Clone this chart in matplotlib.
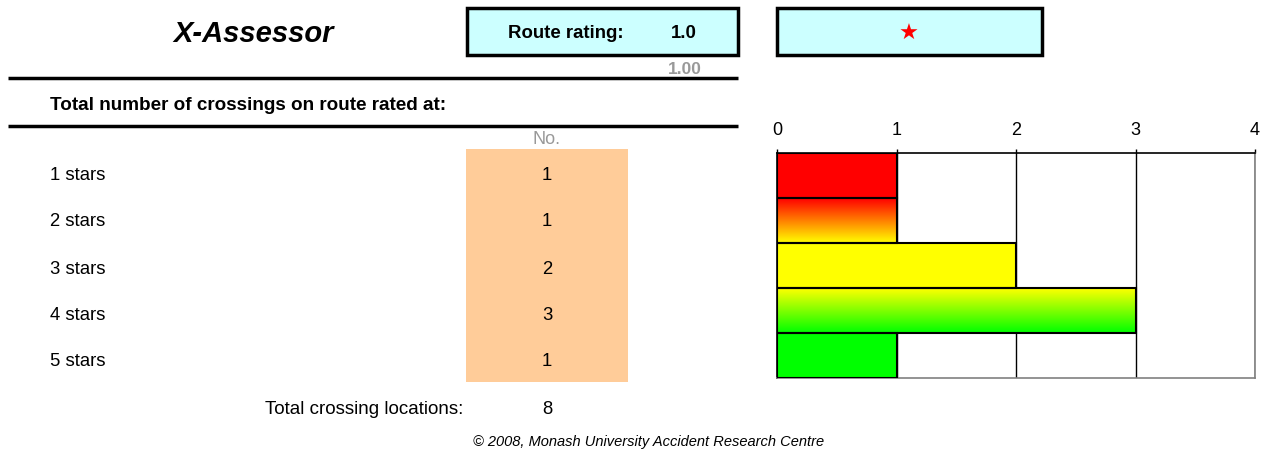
import matplotlib.pyplot as plt
import numpy as np
from matplotlib.patches import Rectangle
from matplotlib.colors import to_rgb

plt.rcParams['font.family'] = ['Liberation Sans', 'DejaVu Sans']

# data
categories = ['1 stars', '2 stars', '3 stars', '4 stars', '5 stars']
counts = [1, 1, 2, 3, 1]
total = 8
route_rating = 1.0
route_rating_exact = 1.00
# bar colours, top -> bottom of each bar
bar_colours = [('#ff0000', '#ff0000'),
               ('#ff0000', '#ffff00'),
               ('#ffff00', '#ffff00'),
               ('#ffff00', '#00ff00'),
               ('#00ff00', '#00ff00')]

fig = plt.figure(figsize=(12.67, 4.5), dpi=100)

# overlay in pixel coordinates for the table part
bg = fig.add_axes([0, 0, 1, 1])
bg.set_xlim(0, 1267)
bg.set_ylim(450, 0)
bg.axis('off')

dy = 2  # text nudge so glyphs sit where the reference has them

bg.text(254, 32 + dy, 'X-Assessor', fontsize=21, fontweight='heavy', style='italic',
        ha='center', va='center')

bg.add_patch(Rectangle((467, 8), 271, 47, facecolor='#ccffff', edgecolor='black', lw=2.5))
bg.text(566, 32 + dy, 'Route rating:', fontsize=13.4, fontweight='bold', ha='center', va='center')
bg.text(684, 32 + dy, '%.1f' % route_rating, fontsize=13.4, fontweight='bold', ha='center', va='center')
bg.text(685, 67 + dy, '%.2f' % route_rating_exact, fontsize=12.5, fontweight='bold', color='#999999',
        ha='center', va='center')

bg.add_patch(Rectangle((777, 8), 265, 47, facecolor='#ccffff', edgecolor='black', lw=2.5))
bg.text(909, 34, '\u2605' * int(round(route_rating)), fontsize=16, color='red',
        ha='center', va='center', family='DejaVu Sans')

bg.plot([8, 738], [78, 78], color='black', lw=2.5, solid_capstyle='butt')
bg.text(50, 103 + dy, 'Total number of crossings on route rated at:', fontsize=13.6,
        fontweight='bold', ha='left', va='center')
bg.plot([8, 738], [126, 126], color='black', lw=2.5, solid_capstyle='butt')

bg.text(547, 138 + dy, 'No.', fontsize=13, color='#999999', ha='center', va='center')
bg.add_patch(Rectangle((466, 149), 162, 233, facecolor='#ffcc99', edgecolor='none'))

row_y = [174, 220, 267, 314, 360]
for label, c, y in zip(categories, counts, row_y):
    bg.text(50, y + dy, label, fontsize=13.3, ha='left', va='center')
    bg.text(547, y + dy, str(c), fontsize=13.3, ha='center', va='center')

bg.text(463, 407 + dy, 'Total crossing locations:', fontsize=13.5, ha='right', va='center')
bg.text(547, 407 + dy, str(total), fontsize=13.3, ha='center', va='center')

bg.text(649, 440 + dy, '\u00a9 2008, Monash University Accident Research Centre', fontsize=10.5,
        style='italic', ha='center', va='center')

# bar chart
ax = fig.add_axes([777 / 1267, 72 / 450, 478 / 1267, 225 / 450])
ypos = np.arange(len(categories))
for y, v, (c_top, c_bot) in zip(ypos, counts, bar_colours):
    t = np.linspace(0, 1, 64)[:, None]
    grad = (1 - t) * np.array(to_rgb(c_top)) + t * np.array(to_rgb(c_bot))
    grad = np.repeat(grad[:, None, :], 2, axis=1)
    ax.imshow(grad, extent=(0, v, y + 0.5, y - 0.5), aspect='auto', zorder=2,
              interpolation='bilinear')
ax.barh(ypos, counts, height=1.0, facecolor='none', edgecolor='black', lw=1.5, zorder=3)

ax.set_xlim(0, 4)
ax.set_ylim(len(categories) - 0.5, -0.5)
ax.set_xticks([0, 1, 2, 3, 4])
ax.set_yticks([])
ax.xaxis.tick_top()
ax.tick_params(axis='x', direction='out', length=3, width=1, pad=7, labelsize=13)
ax.grid(axis='x', color='black', lw=1, zorder=1)
ax.set_axisbelow(True)
ax.spines['top'].set_color('black')
ax.spines['left'].set_color('black')
ax.spines['right'].set_color('#808080')
ax.spines['bottom'].set_color('#808080')
for s in ax.spines.values():
    s.set_linewidth(1.2)

fig.savefig('out.png', dpi=100)
